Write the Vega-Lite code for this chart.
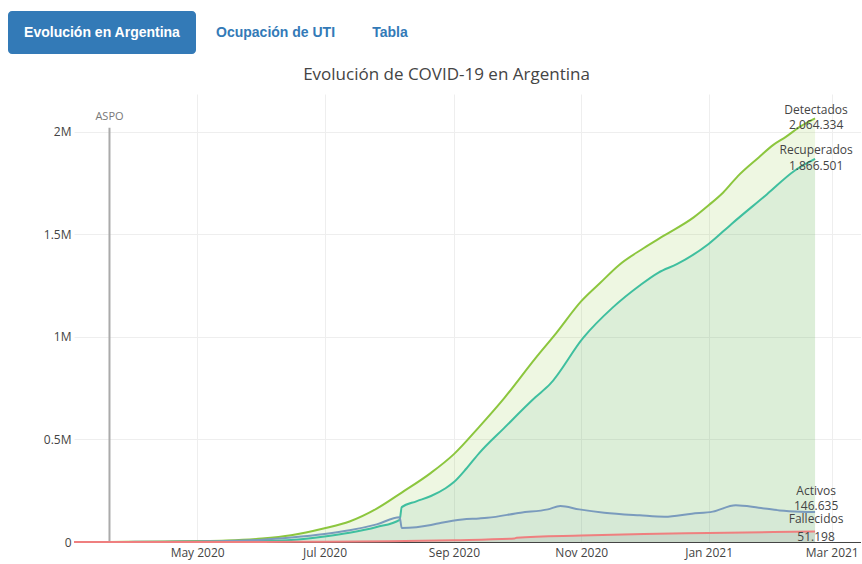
{
  "$schema": "https://vega.github.io/schema/vega-lite/v6.json",
  "background": "#ffffff",
  "padding": {"left": 8, "top": 11, "right": 0, "bottom": 2},
  "spacing": 12,
  "config": {
    "view": {"stroke": null},
    "font": "Open Sans",
    "locale": {"number": {"decimal": ",", "thousands": ".", "grouping": [3], "currency": ["$", ""]}},
    "axis": {"labelFont": "Open Sans", "labelFontSize": 12, "labelColor": "#444444", "gridColor": "#eeeeee", "ticks": false, "tickSize": 0, "title": null}
  },
  "datasets": {
    "pestanas": [
      {"pestana": "Evolución en Argentina", "orden": 1, "activa": true},
      {"pestana": "Ocupación de UTI", "orden": 2, "activa": false},
      {"pestana": "Tabla", "orden": 3, "activa": false}
    ],
    "eventos": [
      {"fecha": "2020-03-20", "evento": "ASPO", "valor": 2018000}
    ],
    "finales": [
      {"serie": "Detectados", "fecha": "2021-02-21", "valor": 2064334},
      {"serie": "Recuperados", "fecha": "2021-02-21", "valor": 1866501},
      {"serie": "Activos", "fecha": "2021-02-21", "valor": 146635},
      {"serie": "Fallecidos", "fecha": "2021-02-21", "valor": 51198}
    ],
    "series": [
      {"serie": "Detectados", "fecha": "2020-03-03", "valor": 1},
      {"serie": "Detectados", "fecha": "2020-03-20", "valor": 128},
      {"serie": "Detectados", "fecha": "2020-04-01", "valor": 1054},
      {"serie": "Detectados", "fecha": "2020-04-15", "valor": 2443},
      {"serie": "Detectados", "fecha": "2020-05-01", "valor": 4428},
      {"serie": "Detectados", "fecha": "2020-05-15", "valor": 7479},
      {"serie": "Detectados", "fecha": "2020-06-01", "valor": 16838},
      {"serie": "Detectados", "fecha": "2020-06-15", "valor": 32785},
      {"serie": "Detectados", "fecha": "2020-07-01", "valor": 67197},
      {"serie": "Detectados", "fecha": "2020-07-13", "valor": 100166},
      {"serie": "Detectados", "fecha": "2020-07-26", "valor": 162526},
      {"serie": "Detectados", "fecha": "2020-08-07", "valor": 241000},
      {"serie": "Detectados", "fecha": "2020-08-21", "valor": 337000},
      {"serie": "Detectados", "fecha": "2020-09-01", "valor": 428239},
      {"serie": "Detectados", "fecha": "2020-09-13", "valor": 560000},
      {"serie": "Detectados", "fecha": "2020-09-25", "valor": 700000},
      {"serie": "Detectados", "fecha": "2020-10-10", "valor": 895000},
      {"serie": "Detectados", "fecha": "2020-10-20", "valor": 1018000},
      {"serie": "Detectados", "fecha": "2020-11-01", "valor": 1173533},
      {"serie": "Detectados", "fecha": "2020-11-10", "valor": 1262000},
      {"serie": "Detectados", "fecha": "2020-11-19", "valor": 1349000},
      {"serie": "Detectados", "fecha": "2020-12-01", "valor": 1432570},
      {"serie": "Detectados", "fecha": "2020-12-11", "valor": 1495000},
      {"serie": "Detectados", "fecha": "2020-12-25", "valor": 1583000},
      {"serie": "Detectados", "fecha": "2021-01-01", "valor": 1640718},
      {"serie": "Detectados", "fecha": "2021-01-08", "valor": 1703000},
      {"serie": "Detectados", "fecha": "2021-01-15", "valor": 1783047},
      {"serie": "Detectados", "fecha": "2021-01-25", "valor": 1874000},
      {"serie": "Detectados", "fecha": "2021-02-01", "valor": 1935008},
      {"serie": "Detectados", "fecha": "2021-02-07", "valor": 1974000},
      {"serie": "Detectados", "fecha": "2021-02-14", "valor": 2025000},
      {"serie": "Detectados", "fecha": "2021-02-21", "valor": 2064334},

      {"serie": "Recuperados", "fecha": "2020-03-03", "valor": 0},
      {"serie": "Recuperados", "fecha": "2020-03-20", "valor": 3},
      {"serie": "Recuperados", "fecha": "2020-04-01", "valor": 248},
      {"serie": "Recuperados", "fecha": "2020-04-15", "valor": 568},
      {"serie": "Recuperados", "fecha": "2020-05-01", "valor": 1367},
      {"serie": "Recuperados", "fecha": "2020-05-15", "valor": 2569},
      {"serie": "Recuperados", "fecha": "2020-06-01", "valor": 5323},
      {"serie": "Recuperados", "fecha": "2020-06-15", "valor": 10000},
      {"serie": "Recuperados", "fecha": "2020-07-01", "valor": 27000},
      {"serie": "Recuperados", "fecha": "2020-07-13", "valor": 45000},
      {"serie": "Recuperados", "fecha": "2020-07-26", "valor": 73000},
      {"serie": "Recuperados", "fecha": "2020-08-06", "valor": 108000},
      {"serie": "Recuperados", "fecha": "2020-08-07", "valor": 170000},
      {"serie": "Recuperados", "fecha": "2020-08-14", "valor": 198000},
      {"serie": "Recuperados", "fecha": "2020-08-21", "valor": 224000},
      {"serie": "Recuperados", "fecha": "2020-08-28", "valor": 262000},
      {"serie": "Recuperados", "fecha": "2020-09-01", "valor": 292000},
      {"serie": "Recuperados", "fecha": "2020-09-07", "valor": 358000},
      {"serie": "Recuperados", "fecha": "2020-09-13", "valor": 432000},
      {"serie": "Recuperados", "fecha": "2020-09-25", "valor": 555000},
      {"serie": "Recuperados", "fecha": "2020-10-10", "valor": 705000},
      {"serie": "Recuperados", "fecha": "2020-10-17", "valor": 769000},
      {"serie": "Recuperados", "fecha": "2020-11-02", "valor": 996000},
      {"serie": "Recuperados", "fecha": "2020-11-16", "valor": 1142000},
      {"serie": "Recuperados", "fecha": "2020-11-29", "valor": 1250000},
      {"serie": "Recuperados", "fecha": "2020-12-08", "valor": 1313000},
      {"serie": "Recuperados", "fecha": "2020-12-17", "valor": 1355000},
      {"serie": "Recuperados", "fecha": "2021-01-01", "valor": 1452000},
      {"serie": "Recuperados", "fecha": "2021-01-12", "valor": 1550000},
      {"serie": "Recuperados", "fecha": "2021-01-29", "valor": 1695000},
      {"serie": "Recuperados", "fecha": "2021-02-11", "valor": 1808000},
      {"serie": "Recuperados", "fecha": "2021-02-21", "valor": 1866501},

      {"serie": "Activos", "fecha": "2020-03-03", "valor": 1},
      {"serie": "Activos", "fecha": "2020-03-20", "valor": 122},
      {"serie": "Activos", "fecha": "2020-04-01", "valor": 779},
      {"serie": "Activos", "fecha": "2020-04-15", "valor": 1764},
      {"serie": "Activos", "fecha": "2020-05-01", "valor": 2843},
      {"serie": "Activos", "fecha": "2020-05-15", "valor": 4557},
      {"serie": "Activos", "fecha": "2020-06-01", "valor": 10987},
      {"serie": "Activos", "fecha": "2020-06-15", "valor": 21931},
      {"serie": "Activos", "fecha": "2020-07-01", "valor": 38846},
      {"serie": "Activos", "fecha": "2020-07-13", "valor": 57000},
      {"serie": "Activos", "fecha": "2020-07-26", "valor": 86000},
      {"serie": "Activos", "fecha": "2020-08-06", "valor": 120000},
      {"serie": "Activos", "fecha": "2020-08-07", "valor": 68000},
      {"serie": "Activos", "fecha": "2020-08-14", "valor": 72000},
      {"serie": "Activos", "fecha": "2020-08-21", "valor": 83000},
      {"serie": "Activos", "fecha": "2020-08-26", "valor": 94000},
      {"serie": "Activos", "fecha": "2020-09-05", "valor": 110000},
      {"serie": "Activos", "fecha": "2020-09-13", "valor": 115000},
      {"serie": "Activos", "fecha": "2020-09-17", "valor": 118000},
      {"serie": "Activos", "fecha": "2020-10-03", "valor": 143000},
      {"serie": "Activos", "fecha": "2020-10-16", "valor": 159000},
      {"serie": "Activos", "fecha": "2020-10-22", "valor": 175000},
      {"serie": "Activos", "fecha": "2020-10-31", "valor": 159000},
      {"serie": "Activos", "fecha": "2020-11-12", "valor": 143000},
      {"serie": "Activos", "fecha": "2020-11-29", "valor": 130000},
      {"serie": "Activos", "fecha": "2020-12-11", "valor": 123000},
      {"serie": "Activos", "fecha": "2020-12-24", "valor": 138000},
      {"serie": "Activos", "fecha": "2021-01-03", "valor": 148000},
      {"serie": "Activos", "fecha": "2021-01-14", "valor": 179000},
      {"serie": "Activos", "fecha": "2021-01-25", "valor": 167000},
      {"serie": "Activos", "fecha": "2021-02-04", "valor": 154000},
      {"serie": "Activos", "fecha": "2021-02-14", "valor": 148000},
      {"serie": "Activos", "fecha": "2021-02-21", "valor": 146635},

      {"serie": "Fallecidos", "fecha": "2020-03-03", "valor": 0},
      {"serie": "Fallecidos", "fecha": "2020-03-20", "valor": 3},
      {"serie": "Fallecidos", "fecha": "2020-04-01", "valor": 27},
      {"serie": "Fallecidos", "fecha": "2020-05-01", "valor": 218},
      {"serie": "Fallecidos", "fecha": "2020-06-01", "valor": 528},
      {"serie": "Fallecidos", "fecha": "2020-07-01", "valor": 1351},
      {"serie": "Fallecidos", "fecha": "2020-08-01", "valor": 3863},
      {"serie": "Fallecidos", "fecha": "2020-09-01", "valor": 8919},
      {"serie": "Fallecidos", "fecha": "2020-09-30", "valor": 16937},
      {"serie": "Fallecidos", "fecha": "2020-10-01", "valor": 20288},
      {"serie": "Fallecidos", "fecha": "2020-11-01", "valor": 31140},
      {"serie": "Fallecidos", "fecha": "2020-12-01", "valor": 38928},
      {"serie": "Fallecidos", "fecha": "2021-01-01", "valor": 43482},
      {"serie": "Fallecidos", "fecha": "2021-02-01", "valor": 48249},
      {"serie": "Fallecidos", "fecha": "2021-02-21", "valor": 51198}
    ]
  },
  "vconcat": [
    {
      "width": 787,
      "height": 43,
      "data": {"name": "pestanas"},
      "encoding": {
        "x": {"field": "orden", "type": "quantitative", "scale": {"type": "pow", "exponent": 0.22, "domain": [1, 3], "range": [28, 316], "padding": 0, "zero": false, "nice": false}, "axis": null}
      },
      "layer": [
        {
          "transform": [{"filter": "datum.activa"}],
          "mark": {"type": "bar", "width": 188, "cornerRadius": 4, "color": "#337ab7"},
          "encoding": {
            "y": {"datum": 1, "type": "quantitative", "scale": {"domain": [0, 1], "padding": 0}, "axis": null},
            "y2": {"datum": 0}
          }
        },
        {
          "mark": {"type": "text", "font": "Liberation Sans", "fontSize": 14, "fontWeight": "bold", "baseline": "middle", "align": "center"},
          "encoding": {
            "y": {"datum": 0.5, "type": "quantitative", "scale": {"domain": [0, 1], "padding": 0}, "axis": null},
            "text": {"field": "pestana"},
            "color": {"condition": {"test": "datum.activa", "value": "#ffffff"}, "value": "#337ab7"}
          }
        }
      ]
    },
    {
      "width": 787,
      "height": 448,
      "title": {"text": "Evolución de COVID-19 en Argentina", "font": "Open Sans", "fontSize": 17, "fontWeight": "normal", "color": "#444444", "anchor": "middle", "frame": "group", "dx": -21, "offset": 10},
      "data": {"name": "series"},
      "encoding": {
        "x": {
          "field": "fecha", "type": "temporal",
          "scale": {"type": "utc", "domain": [{"year": 2020, "month": 3, "date": 3, "utc": true}, {"year": 2021, "month": 3, "date": 15, "utc": true}]},
          "axis": {
            "values": [
              {"year": 2020, "month": 5, "date": 1, "utc": true},
              {"year": 2020, "month": 7, "date": 1, "utc": true},
              {"year": 2020, "month": 9, "date": 1, "utc": true},
              {"year": 2020, "month": 11, "date": 1, "utc": true},
              {"year": 2021, "month": 1, "date": 1, "utc": true},
              {"year": 2021, "month": 3, "date": 1, "utc": true}
            ],
            "labelExpr": "utcFormat(datum.value, '%b %Y')",
            "domain": true, "domainColor": "#444444", "domainWidth": 1,
            "grid": true, "labelPadding": 5, "labelFlush": false, "labelOverlap": false
          }
        },
        "y": {
          "field": "valor", "type": "quantitative", "stack": null,
          "scale": {"domain": [0, 2183000], "nice": false, "zero": true},
          "axis": {
            "values": [0, 500000, 1000000, 1500000, 2000000],
            "labelExpr": "datum.value == 0 ? '0' : (datum.value / 1000000) + 'M'",
            "domain": false, "grid": true, "labelPadding": 3
          }
        }
      },
      "layer": [
        {"transform": [{"filter": "datum.serie == 'Detectados'"}], "mark": {"type": "area", "interpolate": "monotone", "color": "#8cc63e", "opacity": 0.15}},
        {"transform": [{"filter": "datum.serie == 'Recuperados'"}], "mark": {"type": "area", "interpolate": "monotone", "color": "#5aaf96", "opacity": 0.12}},
        {"transform": [{"filter": "datum.serie == 'Activos'"}], "mark": {"type": "area", "interpolate": "monotone", "color": "#7896b4", "opacity": 0.06}},
        {"transform": [{"filter": "datum.serie == 'Fallecidos'"}], "mark": {"type": "area", "interpolate": "monotone", "color": "#999999", "opacity": 0.2}},
        {
          "data": {"name": "eventos"},
          "mark": {"type": "rule", "color": "#aaaaaa", "strokeWidth": 2},
          "encoding": {"y2": {"datum": 0}}
        },
        {"transform": [{"filter": "datum.serie == 'Recuperados'"}], "mark": {"type": "line", "interpolate": "monotone", "color": "#3fbf9f", "strokeWidth": 2}},
        {"transform": [{"filter": "datum.serie == 'Detectados'"}], "mark": {"type": "line", "interpolate": "monotone", "color": "#8cc63e", "strokeWidth": 2}},
        {"transform": [{"filter": "datum.serie == 'Activos'"}], "mark": {"type": "line", "interpolate": "monotone", "color": "#7a9bbd", "strokeWidth": 2}},
        {"transform": [{"filter": "datum.serie == 'Fallecidos'"}], "mark": {"type": "line", "interpolate": "monotone", "color": "#ef7f7f", "strokeWidth": 2}},
        {
          "data": {"name": "eventos"},
          "mark": {"type": "text", "font": "Open Sans", "fontSize": 11, "color": "#777777", "baseline": "middle", "align": "center", "dy": -11},
          "encoding": {"text": {"field": "evento"}}
        },
        {
          "data": {"name": "finales"},
          "transform": [{"filter": "datum.serie == 'Detectados' || datum.serie == 'Recuperados'"}],
          "mark": {"type": "text", "font": "Open Sans", "fontSize": 12, "color": "#444444", "baseline": "middle", "align": "center", "dx": 1, "dy": -8.5},
          "encoding": {"text": {"field": "serie"}}
        },
        {
          "data": {"name": "finales"},
          "transform": [{"filter": "datum.serie == 'Detectados' || datum.serie == 'Recuperados'"}],
          "mark": {"type": "text", "font": "Open Sans", "fontSize": 12, "color": "#444444", "baseline": "middle", "align": "center", "dx": 1, "dy": 7},
          "encoding": {"text": {"field": "valor", "type": "quantitative", "format": ","}}
        },
        {
          "data": {"name": "finales"},
          "transform": [{"filter": "datum.serie == 'Activos'"}],
          "mark": {"type": "text", "font": "Open Sans", "fontSize": 12, "color": "#444444", "baseline": "middle", "align": "center", "dx": 1, "dy": -21},
          "encoding": {"text": {"field": "serie"}}
        },
        {
          "data": {"name": "finales"},
          "transform": [{"filter": "datum.serie == 'Activos'"}],
          "mark": {"type": "text", "font": "Open Sans", "fontSize": 12, "color": "#444444", "baseline": "middle", "align": "center", "dx": 1, "dy": -6},
          "encoding": {"text": {"field": "valor", "type": "quantitative", "format": ","}}
        },
        {
          "data": {"name": "finales"},
          "transform": [{"filter": "datum.serie == 'Fallecidos'"}],
          "mark": {"type": "text", "font": "Open Sans", "fontSize": 12, "color": "#444444", "baseline": "middle", "align": "center", "dx": 1, "dy": -12},
          "encoding": {"text": {"field": "serie"}}
        },
        {
          "data": {"name": "finales"},
          "transform": [{"filter": "datum.serie == 'Fallecidos'"}],
          "mark": {"type": "text", "font": "Open Sans", "fontSize": 12, "color": "#444444", "baseline": "middle", "align": "center", "dx": 1, "dy": 6},
          "encoding": {"text": {"field": "valor", "type": "quantitative", "format": ","}}
        }
      ]
    }
  ]
}
